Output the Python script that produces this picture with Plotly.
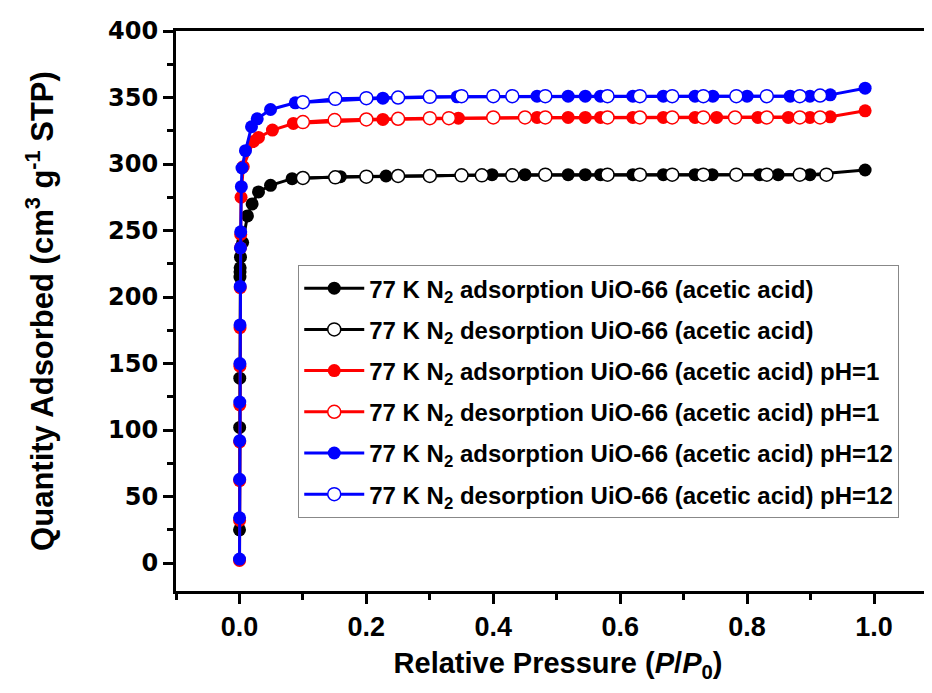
import plotly.graph_objects as go

# ---- data (P/P0, quantity adsorbed cm3/g STP) ----
black_ads_x = [0.0001, 0.0003, 0.0005, 0.0008, 0.0009, 0.0011, 0.0016, 0.005, 0.0126, 0.020, 0.030, 0.049, 0.083,
               0.159, 0.231, 0.398, 0.450, 0.518, 0.545, 0.569, 0.620, 0.668, 0.718, 0.745, 0.820, 0.849, 0.899, 0.986]
black_ads_y = [25, 102, 139, 215, 219, 222, 230, 241, 261, 270, 279, 284, 289,
               290.5, 291, 292, 292, 292, 292, 292, 292, 292, 292, 292, 292, 292, 292, 295.5]
black_des_x = [0.925, 0.883, 0.831, 0.783, 0.731, 0.682, 0.631, 0.580, 0.482, 0.430, 0.382, 0.350, 0.300, 0.250, 0.200, 0.151, 0.100]
black_des_y = [292, 292, 292, 292, 292, 292, 292, 292, 292, 291.5, 291.5, 291.5, 291, 291, 290.5, 290, 289.5]

red_ads_x = [0.0001, 0.0002, 0.0003, 0.0004, 0.0005, 0.0007, 0.0009, 0.0012, 0.0016, 0.0020, 0.0025, 0.006, 0.022, 0.030,
             0.052, 0.085, 0.226, 0.345, 0.469, 0.518, 0.545, 0.569, 0.620, 0.668, 0.718, 0.752, 0.817, 0.865, 0.899, 0.931, 0.986]
red_ads_y = [2, 32, 62, 91, 119, 148, 177, 207, 237, 247, 275, 298, 317, 320,
             325.5, 330.5, 333.5, 334.5, 335, 335, 335, 335, 335, 335, 335, 335, 335, 335, 335, 335.5, 340]
red_des_x = [0.915, 0.883, 0.831, 0.781, 0.731, 0.682, 0.631, 0.580, 0.482, 0.450, 0.400, 0.330, 0.300, 0.250, 0.200, 0.150, 0.100]
red_des_y = [335, 335, 335, 335, 335, 335, 335, 335, 335, 335, 335, 334.5, 334.5, 334, 333.5, 333, 331.5]

blue_ads_x = [0.0001, 0.0002, 0.0003, 0.0004, 0.0005, 0.0007, 0.0009, 0.0012, 0.0016, 0.0020, 0.003, 0.004, 0.0095, 0.019,
              0.028, 0.049, 0.088, 0.226, 0.343, 0.469, 0.518, 0.545, 0.569, 0.620, 0.668, 0.718, 0.746, 0.800, 0.868, 0.899, 0.931, 0.986]
blue_ads_y = [3, 34, 63, 92, 121, 150, 179, 208, 237, 249, 283, 297, 310, 328,
              334, 341, 346, 349.5, 350.5, 351, 351, 351, 351, 351, 351, 351, 351, 351, 351, 351, 352, 357]
blue_des_x = [0.915, 0.883, 0.831, 0.783, 0.731, 0.682, 0.631, 0.580, 0.482, 0.430, 0.400, 0.350, 0.300, 0.250, 0.200, 0.151, 0.100]
blue_des_y = [351.5, 351, 351, 351, 351, 351, 351, 351, 351, 351, 351, 351, 350.5, 350, 349.5, 349, 346.5]

names = [
    "77 K N<sub>2</sub> adsorption UiO-66 (acetic acid)",
    "77 K N<sub>2</sub> desorption UiO-66 (acetic acid)",
    "77 K N<sub>2</sub> adsorption UiO-66 (acetic acid) pH=1",
    "77 K N<sub>2</sub> desorption UiO-66 (acetic acid) pH=1",
    "77 K N<sub>2</sub> adsorption UiO-66 (acetic acid) pH=12",
    "77 K N<sub>2</sub> desorption UiO-66 (acetic acid) pH=12",
]
series = [
    (black_ads_x, black_ads_y, "#000000", True),
    (black_des_x, black_des_y, "#000000", False),
    (red_ads_x, red_ads_y, "#FF0000", True),
    (red_des_x, red_des_y, "#FF0000", False),
    (blue_ads_x, blue_ads_y, "#0000FF", True),
    (blue_des_x, blue_des_y, "#0000FF", False),
]

fig = go.Figure()
for i, ((xs, ys, col, filled), nm) in enumerate(zip(series, names)):
    fig.add_trace(go.Scatter(
        x=xs, y=ys, name=nm, mode="lines+markers", legendgroup=f"g{i}",
        line=dict(color=col, width=3),
        marker=dict(symbol="circle", size=13,
                    color=col if filled else "#FFFFFF",
                    line=dict(color=col, width=1.5 if not filled else 0)),
    ))

BOLD = "Liberation Sans"
fig.update_layout(
    width=932, height=693,
    margin=dict(l=168, r=0, t=23, b=110),
    paper_bgcolor="white", plot_bgcolor="white",
    font=dict(family=BOLD, color="black"),
    legend=dict(
        x=0.160, y=0.582, xanchor="left", yanchor="top",
        bgcolor="white", bordercolor="#888888", borderwidth=1,
        font=dict(family=BOLD, size=24, color="black", weight="bold"),
        tracegroupgap=7, itemwidth=60,
    ),
    xaxis=dict(
        range=[-0.1, 1.104], showgrid=False, zeroline=False,
        showline=True, linecolor="black", linewidth=3, mirror=True,
        ticks="outside", ticklen=10, tickwidth=3, tickcolor="black",
        tick0=0, dtick=0.2, tickformat=".1f",
        minor=dict(ticks="outside", ticklen=6, tickwidth=3, tickcolor="black", dtick=0.1, tick0=0.1),
        tickfont=dict(family=BOLD, size=27, weight="bold"),
        title=dict(text="Relative Pressure (<i>P</i>/<i>P</i><sub>0</sub>)",
                   font=dict(family=BOLD, size=29, weight="bold"),
                   standoff=12),
    ),
    yaxis=dict(
        range=[-21, 400], showgrid=False, zeroline=False,
        showline=True, linecolor="black", linewidth=3, mirror=False,
        ticks="outside", ticklen=10, tickwidth=3, tickcolor="black",
        tick0=0, dtick=50,
        minor=dict(ticks="outside", ticklen=6, tickwidth=3, tickcolor="black", dtick=25, tick0=0),
        tickfont=dict(family="DejaVu Sans", size=24, weight="bold"),
        title=dict(text="Quantity Adsorbed (cm<sup>3</sup> g<sup>-1</sup> STP)",
                   font=dict(family=BOLD, size=31, weight="bold"), standoff=46),
    ),
)

fig.write_html("out.html")
